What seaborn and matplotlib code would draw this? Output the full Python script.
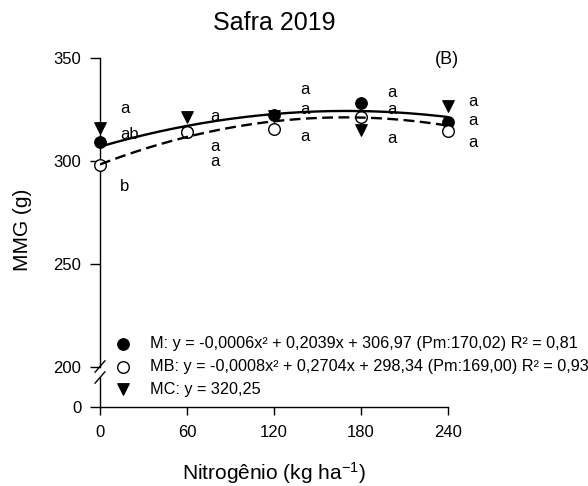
import numpy as np
import matplotlib
matplotlib.use("Agg")
import matplotlib.pyplot as plt
import seaborn as sns

# Nitrogen doses (kg/ha) and thousand-grain mass (g) per cropping system
nitrogen = [0, 60, 120, 180, 240]
mmg_m = [309.4, 314.0, 322.3, 328.0, 319.1]
mmg_mb = [298.0, 314.2, 315.4, 321.5, 314.5]
mmg_mc = [315.9, 321.2, 322.0, 315.0, 326.7]

# Quadratic regression coefficients (a, b, c) for y = a*x^2 + b*x + c
coef_m = [-0.0006, 0.2039, 306.97]
coef_mb = [-0.0008, 0.2704, 298.34]

legend_labels = [
    "M: y = -0,0006x² + 0,2039x + 306,97 (Pm:170,02) R² = 0,81",
    "MB: y = -0,0008x² + 0,2704x + 298,34 (Pm:169,00) R² = 0,93",
    "MC: y = 320,25",
]

# Mean-comparison letters (per dose: top, middle, bottom)
letter_x = [14, 76, 138, 198, 254]
letter_y = [
    [325.6, 312.8, 287.4],
    [321.8, 306.9, 299.7],
    [334.5, 325.2, 311.8],
    [333.3, 324.8, 311.0],
    [329.1, 319.9, 308.9],
]
letter_txt = [
    ["a", "ab", "b"],
    ["a", "a", "a"],
    ["a", "a", "a"],
    ["a", "a", "a"],
    ["a", "a", "a"],
]

sns.set_style("ticks")
plt.rcParams["font.family"] = ["Liberation Sans", "DejaVu Sans"]
plt.rcParams["text.color"] = "black"
plt.rcParams["mathtext.fontset"] = "custom"
plt.rcParams["mathtext.rm"] = "Liberation Sans"
plt.rcParams["mathtext.it"] = "Liberation Sans:italic"
plt.rcParams["mathtext.default"] = "regular"

W, H = 588, 486
fig = plt.figure(figsize=(W / 100, H / 100), dpi=100)

def fx(px):
    return px / W

def fy(py):
    return 1 - py / H

# Upper panel (200-350) and a thin lower panel holding the zero of the broken axis
ax = fig.add_axes([fx(100), fy(367), fx(448) - fx(100), fy(58) - fy(367)])
axb = fig.add_axes([fx(100), fy(407), fx(448) - fx(100), fy(377.5) - fy(407)], sharex=ax)

# Points: MC first, then M, then MB on top
sns.scatterplot(x=nitrogen, y=mmg_mc, marker="v", s=70, color="black",
                edgecolor="black", linewidth=0.8, ax=ax, zorder=3, clip_on=False)
sns.scatterplot(x=nitrogen, y=mmg_m, marker="o", s=70, color="black",
                edgecolor="black", linewidth=0.8, ax=ax, zorder=3, clip_on=False)
sns.scatterplot(x=nitrogen, y=mmg_mb, marker="o", s=70, color="white",
                edgecolor="black", linewidth=1.0, ax=ax, zorder=3, clip_on=False)

# Fitted curves
xs = np.linspace(0, 240, 241)
sns.lineplot(x=xs, y=np.polyval(coef_m, xs), color="black", linewidth=1.7, ax=ax,
             zorder=4)
sns.lineplot(x=xs, y=np.polyval(coef_mb, xs), color="black", linewidth=1.7, ax=ax,
             zorder=4)
ax.lines[-1].set_dashes((4.6, 2.3))

# Letters
for xi, ys, ts in zip(letter_x, letter_y, letter_txt):
    for yi, t in zip(ys, ts):
        ax.text(xi, yi, t, fontsize=12, ha="left", va="center", clip_on=False)

# Axes limits and ticks
ax.set_xlim(0, 240)
ax.set_ylim(200, 350)
ax.set_yticks([200, 250, 300, 350])
axb.set_ylim(0, 10)
axb.set_yticks([0])
axb.set_xticks(nitrogen)

for a in (ax, axb):
    a.set_facecolor("none")
    a.spines["top"].set_visible(False)
    a.spines["right"].set_visible(False)
    for s in a.spines.values():
        s.set_linewidth(1.0)
        s.set_color("black")
    a.tick_params(axis="y", direction="out", length=7, width=1.0, pad=6.5,
                  labelsize=12, colors="black")
    a.tick_params(axis="x", direction="out", length=5.8, width=1.0, pad=7.5,
                  labelsize=12, colors="black")
    a.set_xlabel("")
    a.set_ylabel("")

ax.spines["bottom"].set_visible(False)
ax.tick_params(axis="x", bottom=False, labelbottom=False)

# Axis break marks
for yc in (366.5, 377.5):
    fig.add_artist(plt.Line2D([fx(95), fx(105)], [fy(yc + 5.8), fy(yc - 5.8)],
                              color="black", linewidth=1.0))

# Legend
handles = [ax.collections[1], ax.collections[2], ax.collections[0]]
ax.legend(handles, legend_labels, loc="upper left",
          bbox_to_anchor=(fx(115), fy(336)), bbox_transform=fig.transFigure,
          frameon=False, fontsize=11.7, handlelength=1.0, handletextpad=1.15,
          labelspacing=0.48, borderpad=0, borderaxespad=0, markerscale=1.0)

# Titles and labels
fig.text(fx(274), fy(23), "Safra 2019", fontsize=18, ha="center", va="center")
fig.text(fx(447), fy(60), "(B)", fontsize=13, ha="center", va="center")
fig.text(fx(274), fy(473), "Nitrogênio (kg ha$^{-1}$)", fontsize=15,
         ha="center", va="center")
fig.text(fx(22), fy(230), "MMG (g)", fontsize=15, ha="center", va="center",
         rotation=90)

fig.savefig("out.png", dpi=100)
